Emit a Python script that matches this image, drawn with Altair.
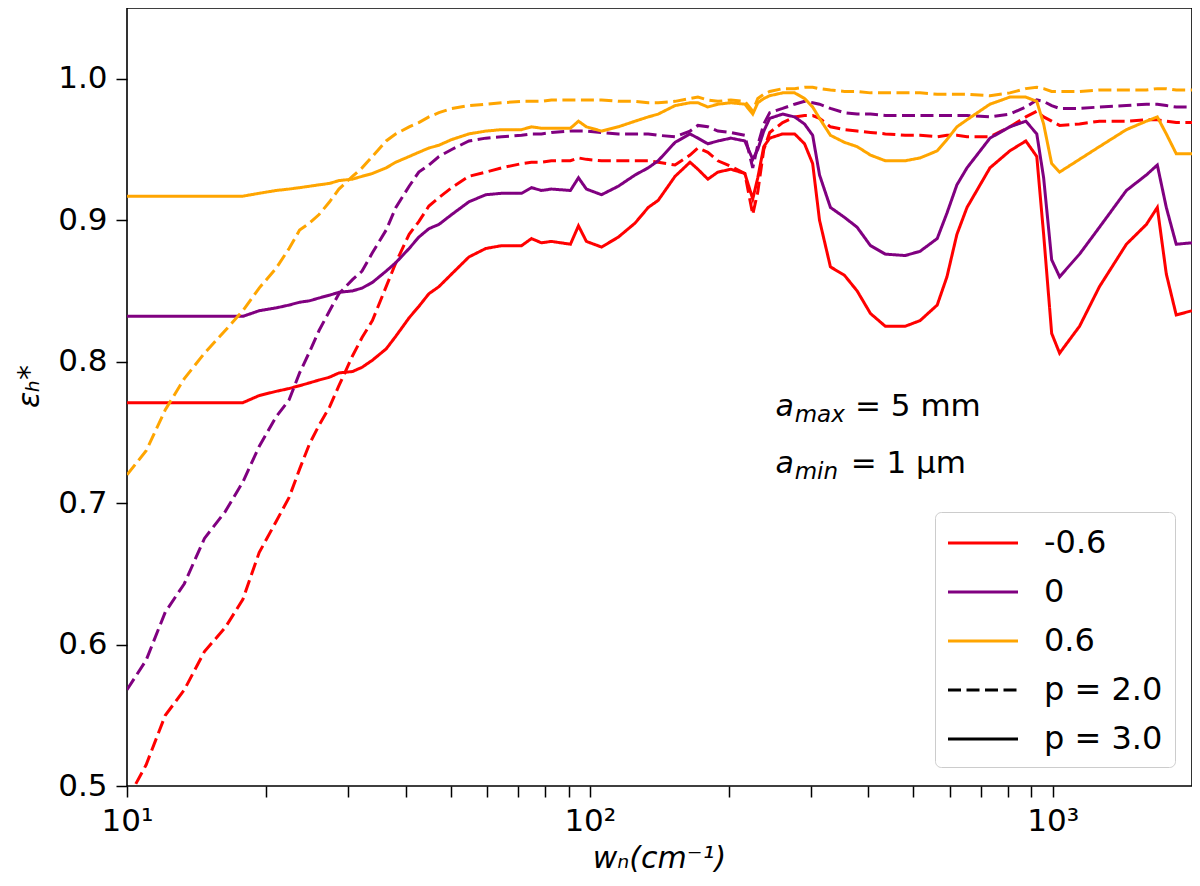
import altair as alt
import pandas as pd

# wavenumber grid (cm^-1) shared by all curves
wavenumber = [10, 11, 12.1, 13.3, 14.7, 16.3, 17.8, 19.3, 21, 22.4, 23.6, 24.8, 26, 27.4,
              28.7, 30.7, 32.2, 33.9, 36.3, 38.1, 40.7, 42.7, 44.9, 47.2, 50.3, 54.8, 59.6,
              64.5, 71.2, 74.8, 78.6, 82.6, 90.8, 94.5, 98.3, 106, 115.2, 125.3, 133.7, 140.5,
              152.8, 164.6, 171.2, 179.9, 189.1, 201.7, 216.2, 224.9, 230.6, 237.6, 244.7, 261,
              277, 291, 303, 313.5, 331, 355, 378, 404, 435, 480, 517, 563, 591, 621, 653, 732,
              808, 875, 924, 956, 995, 1035, 1143, 1262, 1443, 1594, 1683, 1760, 1849, 2000]

# q = -0.6 (red)
eps_red_p2 = [0.490, 0.515, 0.550, 0.568, 0.595, 0.612, 0.632,
              0.665, 0.687, 0.704, 0.724, 0.742, 0.755, 0.768, 0.783,
              0.804, 0.817, 0.829, 0.853, 0.870,
              0.890, 0.899, 0.910, 0.916, 0.923,
              0.931, 0.934, 0.937, 0.940, 0.941, 0.941, 0.942,
              0.942, 0.944, 0.943, 0.942, 0.942,
              0.942, 0.942, 0.941, 0.939, 0.946,
              0.951, 0.948, 0.942, 0.938, 0.933,
              0.904, 0.920, 0.950, 0.962,
              0.969, 0.973, 0.974, 0.974, 0.972, 0.966,
              0.964, 0.963, 0.962, 0.961, 0.960, 0.960,
              0.959, 0.960, 0.960, 0.959,
              0.959, 0.966, 0.973, 0.977, 0.973, 0.970, 0.967,
              0.968, 0.970, 0.970, 0.971, 0.971, 0.970, 0.969, 0.969]
eps_red_p3 = [0.771, 0.771, 0.771, 0.771, 0.771, 0.771, 0.771,
              0.776, 0.779, 0.781, 0.783, 0.785, 0.787, 0.789, 0.792,
              0.793, 0.796, 0.801, 0.809, 0.818,
              0.831, 0.839, 0.848, 0.853, 0.862,
              0.874, 0.880, 0.882, 0.882, 0.887, 0.884, 0.885,
              0.883, 0.896, 0.885, 0.881, 0.888,
              0.898, 0.909, 0.914, 0.931, 0.941,
              0.936, 0.929, 0.934, 0.936, 0.933,
              0.915, 0.930, 0.952, 0.958,
              0.961, 0.961, 0.954, 0.940, 0.900, 0.867,
              0.861, 0.850, 0.834, 0.825, 0.825, 0.829,
              0.840, 0.860, 0.890, 0.909,
              0.937, 0.949, 0.956, 0.945, 0.890, 0.820, 0.806,
              0.825, 0.853, 0.883, 0.897, 0.909, 0.862, 0.833, 0.836]

# q = 0 (purple)
eps_purple_p2 = [0.568, 0.589, 0.623, 0.643, 0.675, 0.694, 0.715,
                 0.740, 0.761, 0.773, 0.792, 0.807, 0.822, 0.836, 0.848,
                 0.858, 0.864, 0.877, 0.893, 0.909,
                 0.924, 0.934, 0.939, 0.945, 0.950,
                 0.956, 0.958, 0.959, 0.960, 0.961, 0.961, 0.962,
                 0.963, 0.963, 0.963, 0.962, 0.961,
                 0.961, 0.961, 0.960, 0.959, 0.963,
                 0.967, 0.966, 0.963, 0.962, 0.960,
                 0.937, 0.953, 0.968, 0.976,
                 0.979, 0.982, 0.984, 0.983, 0.982, 0.979,
                 0.976, 0.975, 0.975, 0.974, 0.974, 0.974,
                 0.974, 0.974, 0.974, 0.974,
                 0.973, 0.975, 0.980, 0.985, 0.984, 0.981, 0.979,
                 0.979, 0.980, 0.981, 0.982, 0.982, 0.981, 0.980, 0.980]
eps_purple_p3 = [0.832, 0.832, 0.832, 0.832, 0.832, 0.832, 0.832,
                 0.836, 0.838, 0.840, 0.842, 0.843, 0.845, 0.847, 0.849,
                 0.850, 0.852, 0.856, 0.864, 0.870,
                 0.880, 0.888, 0.894, 0.897, 0.904,
                 0.913, 0.918, 0.919, 0.919, 0.923, 0.921, 0.922,
                 0.921, 0.930, 0.922, 0.918, 0.924,
                 0.932, 0.937, 0.942, 0.955, 0.961,
                 0.958, 0.954, 0.956, 0.958, 0.956,
                 0.943, 0.950, 0.963, 0.972,
                 0.975, 0.973, 0.968, 0.960, 0.932, 0.909,
                 0.902, 0.895, 0.882, 0.876, 0.875, 0.878,
                 0.887, 0.905, 0.925, 0.937,
                 0.958, 0.966, 0.970, 0.961, 0.930, 0.872, 0.860,
                 0.876, 0.895, 0.921, 0.932, 0.939, 0.909, 0.883, 0.884]

# q = 0.6 (orange)
eps_orange_p2 = [0.720, 0.737, 0.766, 0.788, 0.806, 0.822, 0.836,
                 0.852, 0.866, 0.880, 0.893, 0.898, 0.904, 0.913, 0.922,
                 0.931, 0.937, 0.945, 0.956, 0.961,
                 0.966, 0.969, 0.973, 0.976, 0.979,
                 0.981, 0.982, 0.983, 0.984, 0.984, 0.984, 0.985,
                 0.985, 0.985, 0.985, 0.985, 0.984,
                 0.984, 0.983, 0.983, 0.984, 0.986,
                 0.987, 0.985, 0.984, 0.985, 0.984,
                 0.977, 0.986, 0.989, 0.991,
                 0.993, 0.993, 0.994, 0.994, 0.993, 0.992,
                 0.991, 0.991, 0.990, 0.990, 0.990, 0.990,
                 0.989, 0.989, 0.989, 0.989,
                 0.988, 0.990, 0.993, 0.994, 0.993, 0.991, 0.991,
                 0.991, 0.992, 0.992, 0.992, 0.993, 0.993, 0.992, 0.992]
eps_orange_p3 = [0.917, 0.917, 0.917, 0.917, 0.917, 0.917, 0.917,
                 0.919, 0.921, 0.922, 0.923, 0.924, 0.925, 0.926, 0.928,
                 0.929, 0.931, 0.933, 0.937, 0.941,
                 0.945, 0.948, 0.951, 0.953, 0.957,
                 0.961, 0.963, 0.964, 0.964, 0.966, 0.965, 0.965,
                 0.965, 0.970, 0.966, 0.963, 0.966,
                 0.970, 0.973, 0.975, 0.981, 0.983,
                 0.983, 0.980, 0.982, 0.983, 0.982,
                 0.975, 0.983, 0.986, 0.988,
                 0.990, 0.990, 0.986, 0.980, 0.972, 0.960,
                 0.955, 0.952, 0.946, 0.942, 0.942, 0.944,
                 0.949, 0.957, 0.966, 0.971,
                 0.982, 0.987, 0.987, 0.984, 0.968, 0.940, 0.934,
                 0.943, 0.952, 0.964, 0.970, 0.973, 0.961, 0.947, 0.947]

q_labels = ["-0.6", "0", "0.6"]
q_colors = ["red", "purple", "orange"]
p_labels = ["p = 2.0", "p = 3.0"]
dash = [13, 5.5]
solid = [1, 0]

# annotation pieces (placed in data coordinates)
ann_a_wn = [252, 252]
ann_a_eps = [0.7614, 0.7213]
ann_sub_wn = [277, 277]
ann_sub_eps = [0.7572, 0.7171]
ann_sub_text = ["max", "min"]
ann_rest_wn = [374, 366]
ann_rest_eps = [0.7614, 0.7213]
ann_rest_text = ["= 5 mm", "= 1 \u03bcm"]

series = [
    ("-0.6", "p = 2.0", eps_red_p2),
    ("-0.6", "p = 3.0", eps_red_p3),
    ("0", "p = 2.0", eps_purple_p2),
    ("0", "p = 3.0", eps_purple_p3),
    ("0.6", "p = 2.0", eps_orange_p2),
    ("0.6", "p = 3.0", eps_orange_p3),
]
rows = []
for q, p, vals in series:
    for w, e in zip(wavenumber, vals):
        rows.append({"wn": w, "eps": e, "q": q, "p": p, "series": q + " " + p})
data = pd.DataFrame(rows)

font = "DejaVu Sans"

x_enc = alt.X(
    "wn:Q",
    scale=alt.Scale(type="log", domain=[10, 2000], nice=False),
    axis=alt.Axis(
        values=[10, 20, 30, 40, 50, 60, 70, 80, 90, 100, 200, 300, 400, 500, 600,
                700, 800, 900, 1000],
        labelExpr="datum.value == 10 ? '10\u00b9' : datum.value == 100 ? '10\u00b2' : datum.value == 1000 ? '10\u00b3' : ''",
        labelOverlap=False,
        labelFlush=False,
        labelPadding=9,
        labelBaseline="top",
        title="w\u2099(cm\u207b\u00b9)",
        titleFontStyle="italic",
        titleX=532,
        titleY=72,
        titleBaseline="middle",
        titleAlign="center",
    ),
)
y_enc = alt.Y(
    "eps:Q",
    scale=alt.Scale(domain=[0.5, 1.05], nice=False, zero=False),
    axis=alt.Axis(
        values=[0.5, 0.6, 0.7, 0.8, 0.9, 1.0],
        format=".1f",
        labelFlush=False,
        labelPadding=9,
        title="\u03b5\u2095*",
        titleFontStyle="italic",
        titleX=-98,
        titleY=378,
        titleAngle=270,
        titleBaseline="middle",
        titleAlign="center",
    ),
)

lines = (
    alt.Chart(data)
    .mark_line(strokeWidth=3, clip=True)
    .encode(
        x=x_enc,
        y=y_enc,
        color=alt.Color("q:N", scale=alt.Scale(domain=q_labels, range=q_colors), legend=None),
        strokeDash=alt.StrokeDash("p:N", scale=alt.Scale(domain=p_labels, range=[dash, solid]), legend=None),
        detail="series:N",
    )
)

# legend-only layer: one point per key, so nothing is drawn in the plot
legend_keys = q_labels + p_labels
legend_df = pd.DataFrame({"key": legend_keys})
leg = alt.Legend(
    title=None,
    orient="none",
    legendX=808,
    legendY=504,
    symbolType="M-2,0H2",
    symbolSize=1225,
    symbolStrokeWidth=3,
    symbolOffset=17,
    labelFont=font,
    labelFontSize=32,
    labelOffset=42,
    labelLimit=300,
    padding=12,
    rowPadding=14,
    fillColor="rgba(255,255,255,0.8)",
    strokeColor="#cccccc",
    cornerRadius=6,
)
legend_layer = (
    alt.Chart(legend_df)
    .mark_line(strokeWidth=3)
    .encode(
        x=alt.value(0),
        y=alt.value(0),
        color=alt.Color("key:N", scale=alt.Scale(domain=legend_keys,
                        range=["red", "purple", "orange", "black", "black"]), legend=leg),
        strokeDash=alt.StrokeDash("key:N", scale=alt.Scale(domain=legend_keys,
                                  range=[solid, solid, solid, dash, solid]), legend=leg),
    )
)

ann_a = alt.Chart(pd.DataFrame({"wn": ann_a_wn, "eps": ann_a_eps, "t": ["a", "a"]})).mark_text(
    font=font, fontSize=30, fontStyle="italic", align="left", baseline="alphabetic", color="black"
).encode(x="wn:Q", y="eps:Q", text="t:N")
ann_sub = alt.Chart(pd.DataFrame({"wn": ann_sub_wn, "eps": ann_sub_eps, "t": ann_sub_text})).mark_text(
    font=font, fontSize=23, fontStyle="italic", align="left", baseline="alphabetic", color="black"
).encode(x="wn:Q", y="eps:Q", text="t:N")
ann_rest = alt.Chart(pd.DataFrame({"wn": ann_rest_wn, "eps": ann_rest_eps, "t": ann_rest_text})).mark_text(
    font=font, fontSize=31, align="left", baseline="alphabetic", color="black"
).encode(x="wn:Q", y="eps:Q", text="t:N")

chart = (
    alt.layer(lines, legend_layer, ann_a, ann_sub, ann_rest)
    .resolve_scale(color="independent", strokeDash="independent")
    .properties(
        width=1065,
        height=778,
        padding={"left": 119, "top": 0, "right": 0, "bottom": 90},
        autosize=alt.AutoSizeParams(type="none"),
    )
    .configure_view(stroke="black", strokeWidth=1.6)
    .configure_axis(
        domain=False,
        grid=False,
        ticks=True,
        tickColor="black",
        tickWidth=1.5,
        tickSize=11,
        labelFont=font,
        labelFontSize=31,
        labelColor="black",
        titleFont=font,
        titleFontSize=30,
        titleFontWeight="normal",
        titleColor="black",
    )
)

chart.save("out.html", embed_options={"renderer": "svg", "actions": False})
